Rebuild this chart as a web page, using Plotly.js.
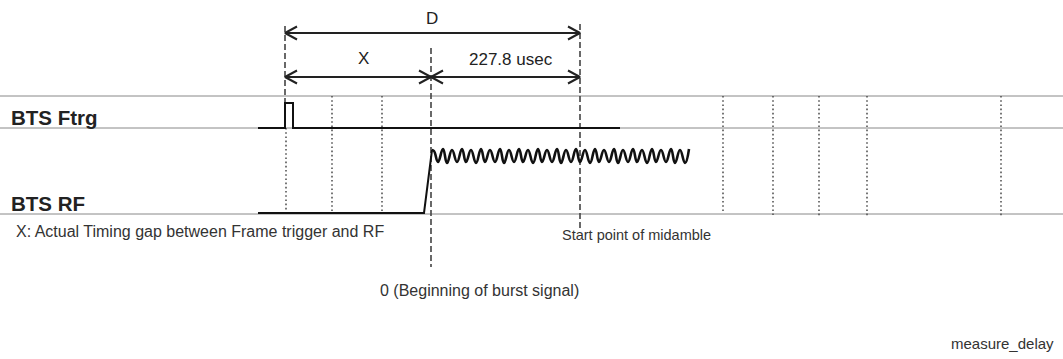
<!DOCTYPE html>
<html>
<head>
<meta charset="utf-8">
<script src="https://cdn.plot.ly/plotly-3.0.1.min.js"></script>
<style>html,body{margin:0;padding:0;background:#fff;}#chart{width:1063px;height:359px;}</style>
</head>
<body>
<div id="chart"></div>
<script>
// ---- data (diagram coordinates) ----
var rowLinesY = [96, 128, 214];
var ftrgX = [258, 285, 285, 293, 293, 620];
var ftrgY = [128, 128, 103, 103, 128, 128];
var rfRampX = [258, 424, 432];
var rfRampY = [213, 213, 150];
var waveX = [434,438,443,447,452,457,462,466,471,476,481,485,490,495,500,504,509,514,519,523,528,533,538,542,547,552,557,561,566,571,576,580,585,590,595,599,604,609,614,618,623,628,633,637,642,647,652,656,661,666,671,675,680,685,689];
var waveY = [151,162,149,163,150,162,149,162,150,163,149,162,150,162,149,163,150,162,149,162,150,163,149,162,150,162,149,163,150,162,149,162,150,163,149,162,150,162,149,163,150,162,149,162,150,163,149,162,150,162,149,163,150,163,149];
var dottedX   = [286, 332, 382, 723, 773, 819, 867, 1001];
var dottedTop = [128, 96, 96, 96, 96, 96, 96, 96];
var dottedBot = [214, 214, 214, 212, 215, 216, 216, 216];
var dashedX   = [285, 431, 580];
var dashedTop = [26, 48, 24];
var dashedBot = [103, 267, 228];
var arrowNames = ["D", "X", "227.8 usec"];
var arrowFrom  = [285, 285, 431];
var arrowTo    = [580, 431, 580];
var arrowY     = [33, 77, 77];
var arrowLabelX = [432, 363, 511];
var arrowLabelY = [18, 58, 59];
var rowLabels  = ["BTS Ftrg", "BTS RF"];
var rowLabelY  = [117, 203];
var noteTexts = ["X: Actual Timing gap between Frame trigger and RF", "Start point of midamble", "0 (Beginning of burst signal)", "measure_delay"];
var noteX = [14, 560, 378, 1056];
var noteY = [231, 235, 290, 343];
var noteAnchor = ["left", "left", "left", "right"];
var noteSize = [16, 14.5, 16, 15];

// ---- traces ----
var traces = [];
function seg(x0, y0, x1, y1, color, width, dash) {
  traces.push({type: "scatter", mode: "lines", x: [x0, x1], y: [y0, y1],
    line: {color: color, width: width, dash: dash || "solid"}, hoverinfo: "skip", showlegend: false});
}
rowLinesY.forEach(function (y) { seg(0, y, 1063, y, "#888", 1); });
dottedX.forEach(function (x, i) { seg(x, dottedTop[i], x, dottedBot[i], "#555", 1.6, "1.6px,2.6px"); });
dashedX.forEach(function (x, i) { seg(x, dashedTop[i], x, dashedBot[i], "#444", 1.6, "6px,3px"); });

traces.push({type: "scatter", mode: "lines", x: ftrgX, y: ftrgY,
  line: {color: "#111", width: 2}, hoverinfo: "skip", showlegend: false});
traces.push({type: "scatter", mode: "lines", x: rfRampX, y: rfRampY,
  line: {color: "#111", width: 2}, hoverinfo: "skip", showlegend: false});
traces.push({type: "scatter", mode: "lines", x: [rfRampX[2]].concat(waveX), y: [rfRampY[2]].concat(waveY),
  line: {color: "#111", width: 2.6, shape: "spline", smoothing: 1.3}, hoverinfo: "skip", showlegend: false});

// arrows with open chevron heads
var HL = 12, HH = 6.5;
arrowFrom.forEach(function (a, i) {
  var b = arrowTo[i], y = arrowY[i];
  seg(a, y, b, y, "#222", 1.8);
  traces.push({type: "scatter", mode: "lines", x: [a + HL, a, a + HL], y: [y - HH, y, y + HH],
    line: {color: "#222", width: 2}, hoverinfo: "skip", showlegend: false});
  traces.push({type: "scatter", mode: "lines", x: [b - HL, b, b - HL], y: [y - HH, y, y + HH],
    line: {color: "#222", width: 2}, hoverinfo: "skip", showlegend: false});
});

// ---- annotations ----
var ann = [];
arrowNames.forEach(function (t, i) {
  ann.push({x: arrowLabelX[i], y: arrowLabelY[i], text: t, showarrow: false, xanchor: "center", yanchor: "middle",
    font: {family: "Arial, Liberation Sans, sans-serif", size: 17, color: "#222"}});
});
rowLabels.forEach(function (t, i) {
  ann.push({x: 9, y: rowLabelY[i], text: "<b>" + t + "</b>", showarrow: false, xanchor: "left", yanchor: "middle",
    font: {family: "Arial, Liberation Sans, sans-serif", size: 20.5, color: "#222"}});
});
noteTexts.forEach(function (t, i) {
  ann.push({x: noteX[i], y: noteY[i], text: t, showarrow: false, xanchor: noteAnchor[i], yanchor: "middle",
    font: {family: "Arial, Liberation Sans, sans-serif", size: noteSize[i], color: "#333"}});
});

var layout = {
  width: 1063, height: 359,
  margin: {l: 0, r: 0, t: 0, b: 0},
  paper_bgcolor: "#fff", plot_bgcolor: "#fff",
  xaxis: {range: [0, 1063], visible: false, fixedrange: true},
  yaxis: {range: [359, 0], visible: false, fixedrange: true},
  annotations: ann,
  showlegend: false
};
Plotly.newPlot("chart", traces, layout, {displayModeBar: false, staticPlot: true});
</script>
</body>
</html>
